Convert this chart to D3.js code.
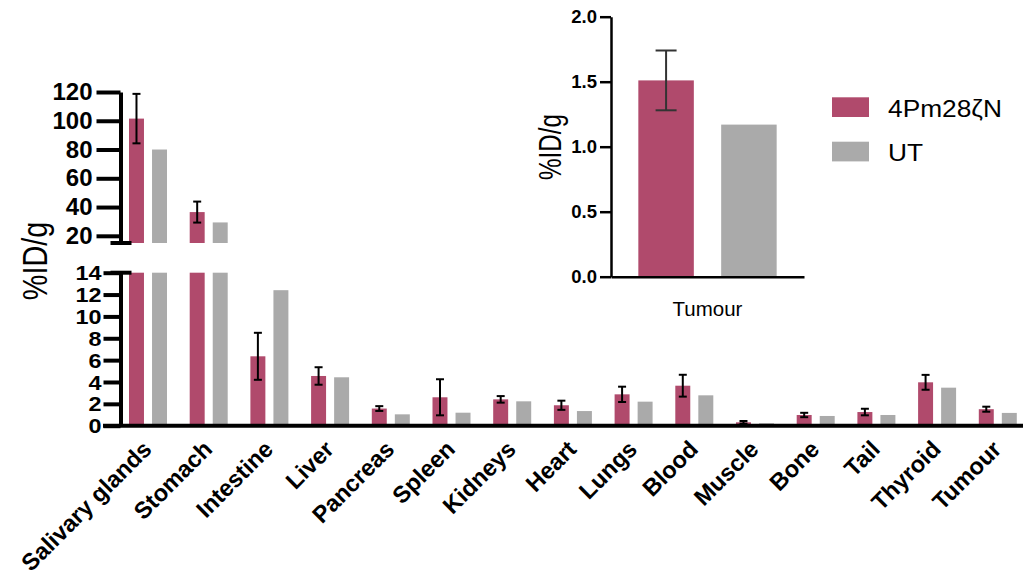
<!DOCTYPE html>
<html>
<head>
<meta charset="utf-8">
<script src="https://cdn.jsdelivr.net/npm/d3@7/dist/d3.min.js"></script>
<style>
  html, body { margin: 0; padding: 0; background: #fff; }
  svg { display: block; font-family: "Liberation Sans", Arial, Helvetica, sans-serif; }
</style>
</head>
<body>
<svg id="chart" width="1023" height="579"></svg>
<script>
// Biodistribution (%ID/g) per organ, CAR-T (4Pm28ζN) vs untransduced (UT)
const categories = ["Salivary glands", "Stomach", "Intestine", "Liver", "Pancreas", "Spleen",
  "Kidneys", "Heart", "Lungs", "Blood", "Muscle", "Bone", "Tail", "Thyroid", "Tumour"];
const seriesNames = ["4Pm28ζN", "UT"];
const carValues = [101.5, 36.5, 6.35, 4.55, 1.57, 2.6, 2.41, 1.87, 2.87, 3.66, 0.31, 0.98, 1.25, 3.97, 1.51];
const carErrors = [17.2, 7.3, 2.15, 0.8, 0.22, 1.65, 0.3, 0.42, 0.7, 1.0, 0.12, 0.2, 0.3, 0.68, 0.23];
const utValues = [80, 29.3, 12.4, 4.43, 1.04, 1.19, 2.23, 1.34, 2.2, 2.78, 0.22, 0.89, 0.98, 3.48, 1.17];
const upperTicks = [20, 40, 60, 80, 100, 120];
const lowerTicks = [0, 2, 4, 6, 8, 10, 12, 14];
const insetTicks = [0, 0.5, 1.0, 1.5, 2.0];
const insetCategory = ["Tumour"];

const colors = { "4Pm28ζN": "#B04A6C", "UT": "#AAAAAA" };
const W = 1023, H = 579;
const FONT = "'Liberation Sans', Arial, sans-serif";
const svg = d3.select("#chart");

const rows = categories.map((c, i) => ({
  cat: c,
  bars: [
    { s: seriesNames[0], v: carValues[i], e: carErrors[i] },
    { s: seriesNames[1], v: utValues[i], e: 0 }
  ]
}));

// ---------- main chart with broken y axis ----------
const axisX = 120.5;
const yLow = d3.scaleLinear().domain([0, 14]).range([425.7, 272.7]);
const yHigh = d3.scaleLinear().domain([15, 120]).range([243, 92]);
const x0 = d3.scaleBand().domain(categories).range([106.3, 1039.5]).padding(0.374);
const x1 = d3.scaleBand().domain(seriesNames).range([0, x0.bandwidth()]).paddingInner(0.35);

const main = svg.append("g");

// bars: lower segment clipped at 14, upper segment drawn from 15 upward
const groups = main.selectAll("g.grp").data(rows).join("g")
  .attr("class", "grp")
  .attr("transform", d => `translate(${x0(d.cat)},0)`);

groups.selectAll("rect.low").data(d => d.bars).join("rect")
  .attr("class", "low")
  .attr("x", b => x1(b.s))
  .attr("width", x1.bandwidth())
  .attr("y", b => yLow(Math.min(b.v, 14)))
  .attr("height", b => yLow(0) - yLow(Math.min(b.v, 14)))
  .attr("fill", b => colors[b.s]);

groups.selectAll("rect.high").data(d => d.bars.filter(b => b.v > 15)).join("rect")
  .attr("class", "high")
  .attr("x", b => x1(b.s))
  .attr("width", x1.bandwidth())
  .attr("y", b => yHigh(b.v))
  .attr("height", b => yHigh(15) - yHigh(b.v))
  .attr("fill", b => colors[b.s]);

// error bars
const errs = groups.selectAll("g.err").data(d => d.bars.filter(b => b.e > 0)).join("g")
  .attr("class", "err")
  .attr("stroke", "#000").attr("stroke-width", 2);
const ySel = b => (b.v > 15 ? yHigh : yLow);
errs.append("line")
  .attr("x1", b => x1(b.s) + x1.bandwidth() / 2).attr("x2", b => x1(b.s) + x1.bandwidth() / 2)
  .attr("y1", b => ySel(b)(b.v + b.e)).attr("y2", b => ySel(b)(b.v - b.e));
[1, -1].forEach(sign => {
  errs.append("line")
    .attr("x1", b => x1(b.s) + x1.bandwidth() / 2 - 4).attr("x2", b => x1(b.s) + x1.bandwidth() / 2 + 4)
    .attr("y1", b => ySel(b)(b.v + sign * b.e)).attr("y2", b => ySel(b)(b.v + sign * b.e));
});

// y axes
const upperAxis = main.append("g").attr("transform", `translate(${axisX},0)`)
  .call(d3.axisLeft(yHigh).tickValues(upperTicks).tickSize(24).tickSizeOuter(0).tickPadding(4));
const lowerAxis = main.append("g").attr("transform", `translate(${axisX},0)`)
  .call(d3.axisLeft(yLow).tickValues(lowerTicks).tickSize(17).tickSizeOuter(0).tickPadding(2));
[upperAxis, lowerAxis].forEach(a => {
  a.select(".domain").attr("stroke", "#000").attr("stroke-width", 4);
  a.selectAll(".tick line").attr("stroke", "#000").attr("stroke-width", 4);
  a.selectAll(".tick text").attr("fill", "#000").attr("font-weight", "bold").attr("font-family", FONT);
});
upperAxis.selectAll(".tick text").attr("font-size", 24);
// the lower scale is tightly packed: slightly smaller, widened digits
lowerAxis.selectAll(".tick text")
  .attr("font-size", 19.5)
  .attr("dy", null)
  .each(function () {
    const t = d3.select(this);
    const x = +t.attr("x");
    t.attr("x", 0).attr("dy", "0.36em")
      .attr("transform", `translate(${x},0) scale(1.2,1)`);
  });

// break caps
main.append("line").attr("x1", axisX - 10).attr("x2", axisX + 11)
  .attr("y1", yHigh(15)).attr("y2", yHigh(15)).attr("stroke", "#000").attr("stroke-width", 4);
main.append("line").attr("x1", axisX - 10).attr("x2", axisX + 11)
  .attr("y1", yLow(14)).attr("y2", yLow(14)).attr("stroke", "#000").attr("stroke-width", 4);

// x axis
const xAxis = main.append("g").attr("transform", `translate(0,${yLow(0)})`)
  .call(d3.axisBottom(x0).tickSize(0).tickSizeOuter(0));
xAxis.select(".domain").remove();
xAxis.append("line").attr("x1", 103).attr("x2", W).attr("y1", 0).attr("y2", 0)
  .attr("stroke", "#000").attr("stroke-width", 4);
xAxis.selectAll(".tick text")
  .attr("y", 0).attr("dy", 0)
  .attr("text-anchor", "end")
  .attr("transform", "translate(5,25) rotate(-45)")
  .attr("fill", "#000").attr("font-size", 23.5).attr("font-weight", "bold")
  .attr("font-family", FONT);

// y title
svg.append("text")
  .attr("transform", "translate(47,261) rotate(-90) scale(0.8,1)")
  .attr("text-anchor", "middle").attr("font-size", 36).attr("fill", "#000")
  .text("%ID/g");

// ---------- inset: tumour ----------
const iy = d3.scaleLinear().domain([0, 2]).range([276.7, 16.7]);
const ix0 = d3.scaleBand().domain(insetCategory).range([611, 804]).padding(0.165);
const ix1 = d3.scaleBand().domain(seriesNames).range([0, ix0.bandwidth()]).paddingInner(0.33);
const tIdx = categories.indexOf("Tumour");
const insetBars = [
  { s: seriesNames[0], v: carValues[tIdx], e: carErrors[tIdx] },
  { s: seriesNames[1], v: utValues[tIdx], e: 0 }
];
const inset = svg.append("g");
const ig = inset.append("g").attr("transform", `translate(${ix0("Tumour")},0)`);
ig.selectAll("rect").data(insetBars).join("rect")
  .attr("x", b => ix1(b.s)).attr("width", ix1.bandwidth())
  .attr("y", b => iy(b.v)).attr("height", b => iy(0) - iy(b.v))
  .attr("fill", b => colors[b.s]);
const ie = ig.selectAll("g.ierr").data(insetBars.filter(b => b.e > 0)).join("g")
  .attr("stroke", "#333").attr("stroke-width", 2);
ie.append("line")
  .attr("x1", b => ix1(b.s) + ix1.bandwidth() / 2).attr("x2", b => ix1(b.s) + ix1.bandwidth() / 2)
  .attr("y1", b => iy(b.v + b.e)).attr("y2", b => iy(b.v - b.e));
[1, -1].forEach(sign => {
  ie.append("line")
    .attr("x1", b => ix1(b.s) + ix1.bandwidth() / 2 - 10.5).attr("x2", b => ix1(b.s) + ix1.bandwidth() / 2 + 10.5)
    .attr("y1", b => iy(b.v + sign * b.e)).attr("y2", b => iy(b.v + sign * b.e));
});

const iyAxis = inset.append("g").attr("transform", "translate(611,0)")
  .call(d3.axisLeft(iy).tickValues(insetTicks).tickFormat(d3.format(".1f"))
    .tickSize(11).tickSizeOuter(0).tickPadding(3));
iyAxis.select(".domain").attr("stroke", "#000").attr("stroke-width", 2.5);
iyAxis.selectAll(".tick line").attr("stroke", "#000").attr("stroke-width", 2.5);
iyAxis.selectAll(".tick text").attr("fill", "#000").attr("font-size", 18.5).attr("font-weight", "bold")
  .attr("font-family", FONT);

const ixAxis = inset.append("g").attr("transform", `translate(0,${iy(0)})`)
  .call(d3.axisBottom(ix0).tickSize(0).tickSizeOuter(0));
ixAxis.select(".domain").attr("stroke", "#000").attr("stroke-width", 2.5);
ixAxis.selectAll(".tick text").attr("y", 39.3).attr("dy", 0)
  .attr("fill", "#000").attr("font-size", 20.5)
  .attr("font-family", FONT);

svg.append("text")
  .attr("transform", "translate(561,147) rotate(-90) scale(0.78,1)")
  .attr("text-anchor", "middle").attr("font-size", 31).attr("fill", "#000")
  .text("%ID/g");

// ---------- legend ----------
const legend = svg.append("g").attr("transform", "translate(832,97.3)");
const li = legend.selectAll("g").data(seriesNames).join("g")
  .attr("transform", (d, i) => `translate(0,${i * 44.4})`);
li.append("rect").attr("width", 37).attr("height", 19.7).attr("fill", d => colors[d]);
li.append("text").attr("transform", "translate(56,19.3) scale(1.12,1)")
  .attr("font-size", 23.5).attr("fill", "#000").text(d => d);
</script>
</body>
</html>
